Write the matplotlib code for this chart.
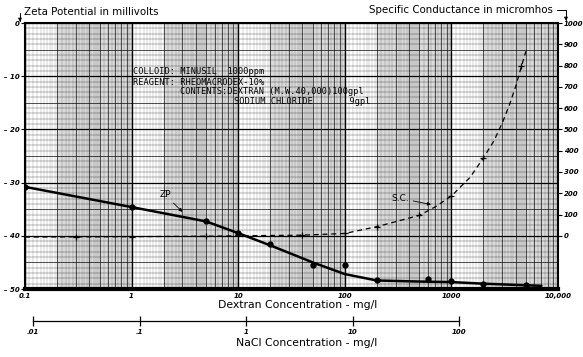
import numpy as np
import matplotlib
matplotlib.use('Agg')
import matplotlib.pyplot as plt

# ---------------------------------------------------------------------------
# Data
# ---------------------------------------------------------------------------
# zeta potential, measured points (mV) vs dextran conc (mg/l)
zp_x = [0.1, 1, 5, 10, 20, 50, 100, 200, 600, 1000, 2000, 5000]
zp_y = [-30.8, -34.6, -37.2, -39.5, -41.5, -45.5, -45.5, -48.3, -48.2, -48.5, -49.1, -49.25]
# zeta potential, drawn curve
zpc_x = [0.1, 1, 5, 10, 20, 50, 100, 200, 500, 1000, 2000, 5000, 7000]
zpc_y = [-30.8, -34.6, -37.3, -39.5, -41.8, -45.0, -47.2, -48.4, -48.6, -48.7, -49.0, -49.3, -49.4]
# specific conductance, "+" points (micromhos)
sc_x = [0.3, 1, 5, 40, 100, 200, 500, 1000, 2000, 4500]
sc_y = [-5, -4, -2, 3, 11, 43, 96, 187, 367, 800]
# specific conductance, drawn dashed curve
scc_x = [0.1, 0.3, 1, 5, 10, 40, 100, 200, 500, 700, 1000, 1500, 2000, 2500, 3000,
         3500, 4000, 4500, 5000]
scc_y = [-6, -5, -4, -2, 0, 3, 11, 43, 96, 135, 187, 275, 367, 445, 530,
         615, 700, 790, 867]

left_ticks = [0, -10, -20, -30, -40, -50]
left_labels = ['0', '\u2013 10', '\u2013 20', '\u2013 30', '\u2013 40', '\u2013 50']
right_ticks = list(range(0, 1001, 100))
dex_ticks = [0.1, 1, 10, 100, 1000, 10000]
dex_labels = ['0.1', '1', '10', '100', '1000', '10,000']
nacl_ticks = [0.01, 0.1, 1, 10, 100]
nacl_labels = ['.01', '.1', '1', '10', '100']

note = ['COLLOID: MINUSIL  1000ppm',
        'REAGENT: RHEOMACRODEX-10%',
        'CONTENTS:DEXTRAN (M.W.40,000)100gpl',
        'SODIUM CHLORIDE       9gpl']

W, H = 583, 357
NARROW = ['Liberation Sans Narrow', 'DejaVu Sans']
fig = plt.figure(figsize=(W / 100, H / 100), dpi=100)
fig.patch.set_facecolor('white')

ax = fig.add_axes([25 / W, 1 - 289 / H, 533 / W, 266 / H])
ax.set_xscale('log')
ax.set_xlim(0.1, 10000)
ax.set_ylim(-50, 0)

# graph paper -------------------------------------------------------------
for k in range(-1, 4):
    d = 10.0 ** k
    ax.axvspan(2 * d, 10 * d, color='#dadada', lw=0, zorder=0)
    fine = np.concatenate([np.arange(1, 2, 0.1), np.arange(2, 5, 0.2), np.arange(5, 10, 0.5)])
    for f in fine:
        ax.axvline(f * d, color='k', lw=0.3, alpha=0.4, zorder=1)
    for f in range(2, 10):
        ax.axvline(f * d, color='k', lw=0.6, alpha=0.7, zorder=1)
    ax.axvline(d, color='k', lw=1.0, zorder=1)
for v in range(-50, 1):
    if v % 10 == 0:
        ax.axhline(v, color='k', lw=0.9, zorder=1)
    elif v % 5 == 0:
        ax.axhline(v, color='k', lw=0.6, alpha=0.8, zorder=1)
    else:
        ax.axhline(v, color='k', lw=0.35, alpha=0.6, zorder=1)

# curves ------------------------------------------------------------------
ax.plot(zpc_x, zpc_y, color='k', lw=1.8, zorder=4, solid_capstyle='round')
ax.plot(zp_x, zp_y, 'o', color='k', ms=3.5, zorder=5)

ax2 = ax.twinx()
ax2.set_ylim(-250, 1000)
ax2.plot(scc_x, scc_y, color='k', lw=0.9, ls=(0, (4, 3)), zorder=4)
ax2.plot(sc_x, sc_y, '+', color='k', ms=5, mew=0.9, zorder=5)

# annotations
ax.annotate('ZP', xy=(3.0, -35.5), xytext=(2.06, -32.3), fontsize=6.5,
            ha='center', va='center', family=NARROW,
            arrowprops=dict(arrowstyle='-|>', lw=0.6, color='k', mutation_scale=5,
                            shrinkA=1, shrinkB=0))
ax2.annotate('S.C.', xy=(644, 147), xytext=(330, 176), fontsize=6.5,
             ha='center', va='center', family=NARROW,
             arrowprops=dict(arrowstyle='-|>', lw=0.6, color='k', mutation_scale=5,
                             shrinkA=1, shrinkB=0))

for i, line in enumerate(note):
    xs = [1.03, 1.03, 2.85, 9.1][i]
    ys = [-9.2, -11.1, -12.8, -14.7][i]
    ax.text(xs, ys, line, fontsize=6.2, family='DejaVu Sans Mono', ha='left',
            va='center', zorder=6)

# axes styling -------------------------------------------------------------
for sp in ax.spines.values():
    sp.set_linewidth(1.5)
ax.spines['bottom'].set_linewidth(3)
ax.set_yticks(left_ticks)
ax.set_yticklabels(left_labels, fontsize=5, style='italic', fontweight='bold')
ax.tick_params(axis='y', length=3, width=0.8, pad=1)
ax.set_xticks(dex_ticks)
ax.set_xticklabels(dex_labels, fontsize=5, style='italic', fontweight='bold')
ax.xaxis.set_minor_locator(matplotlib.ticker.NullLocator())
ax.tick_params(axis='x', length=0, pad=3)

ax2.set_yticks(right_ticks)
ax2.set_yticklabels([str(t) for t in right_ticks], fontsize=5, style='italic',
                    fontweight='bold')
ax2.tick_params(axis='y', length=3, width=0.8, pad=1)
for sp in ax2.spines.values():
    sp.set_visible(False)

# NaCl scale --------------------------------------------------------------
ax3 = fig.add_axes([25 / W, 1 - 321 / H, 533 / W, 0.0001])
ax3.set_xscale('log')
ax3.set_xlim(0.0084, 840)
ax3.set_yticks([])
for s in ['top', 'left', 'right']:
    ax3.spines[s].set_visible(False)
ax3.spines['bottom'].set_bounds(0.01, 100)
ax3.spines['bottom'].set_linewidth(0.9)
ax3.set_xticks(nacl_ticks)
ax3.set_xticklabels(nacl_labels, fontsize=5, style='italic', fontweight='bold')
ax3.xaxis.set_minor_locator(matplotlib.ticker.NullLocator())
ax3.tick_params(axis='x', direction='inout', length=7, width=0.9, pad=2)
ax3.patch.set_visible(False)

# titles -------------------------------------------------------------------
fig.text(298 / W, 1 - 305 / H, 'Dextran Concentration - mg/l', fontsize=7.8,
         family=NARROW, ha='center', va='center')
fig.text(307 / W, 1 - 343 / H, 'NaCl Concentration - mg/l', fontsize=7.8,
         family=NARROW, ha='center', va='center')

fig.add_artist(matplotlib.text.Annotation(
    'Zeta Potential in millivolts', xy=(20, H - 22), xytext=(24, H - 12),
    xycoords='figure pixels', textcoords='figure pixels', fontsize=7.4,
    family=NARROW, ha='left', va='center',
    arrowprops=dict(arrowstyle='-|>', lw=0.7, color='k', mutation_scale=5,
                    connectionstyle='angle,angleA=180,angleB=90,rad=0',
                    shrinkA=1, shrinkB=0)))
fig.add_artist(matplotlib.text.Annotation(
    'Specific Conductance in micromhos', xy=(566, H - 21), xytext=(553, H - 10),
    xycoords='figure pixels', textcoords='figure pixels', fontsize=7.4,
    family=NARROW, ha='right', va='center',
    arrowprops=dict(arrowstyle='-|>', lw=0.7, color='k', mutation_scale=5,
                    connectionstyle='angle,angleA=0,angleB=90,rad=0',
                    shrinkA=1, shrinkB=0)))

fig.savefig('out.png', dpi=100)
